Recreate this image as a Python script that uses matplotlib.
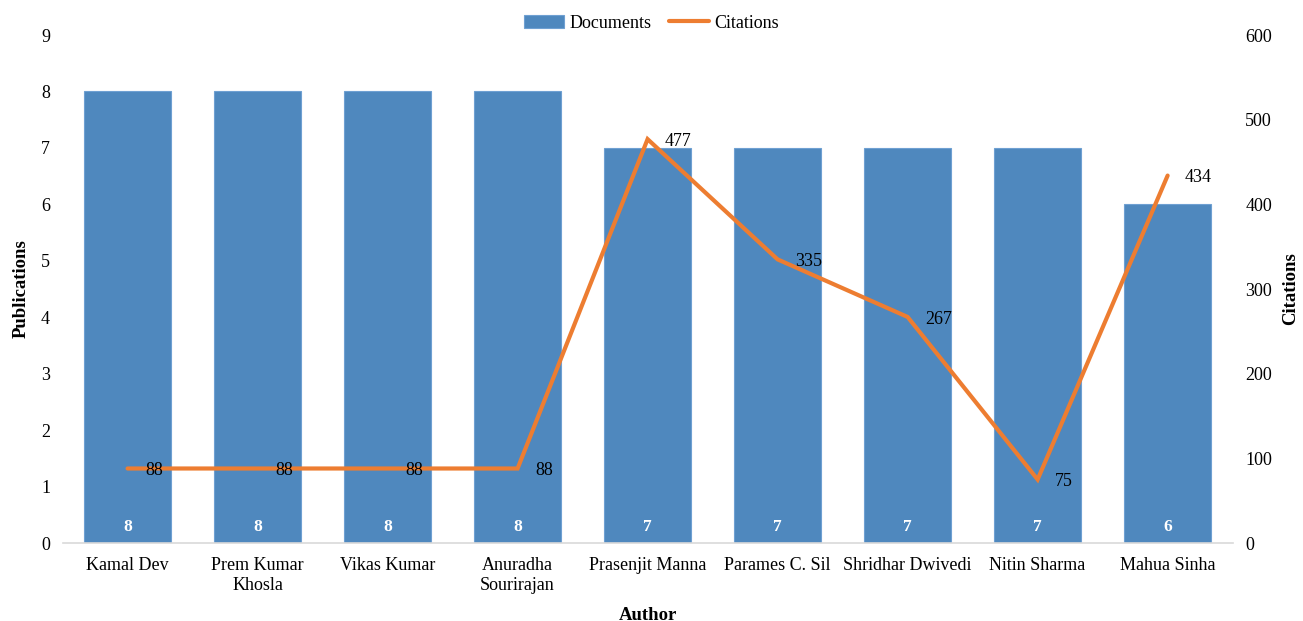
import matplotlib
matplotlib.use("Agg")
import matplotlib.pyplot as plt
import numpy as np

plt.rcParams['font.family'] = ['Liberation Serif', 'DejaVu Serif']

authors = ["Kamal Dev", "Prem Kumar\nKhosla", "Vikas Kumar", "Anuradha\nSourirajan",
           "Prasenjit Manna", "Parames C. Sil", "Shridhar Dwivedi", "Nitin Sharma",
           "Mahua Sinha"]
documents = [8, 8, 8, 8, 7, 7, 7, 7, 6]
citations = [88, 88, 88, 88, 477, 335, 267, 75, 434]

bar_color = "#4F88BE"
line_color = "#ED7D31"

fig = plt.figure(figsize=(13.03, 6.21), dpi=100)
ax = fig.add_axes([0.048, 0.1256, 0.898, 0.818])
ax2 = ax.twinx()

x = np.arange(len(authors))
bars = ax.bar(x, documents, width=0.67, color=bar_color, edgecolor="#6FA0D2",
              linewidth=0.8, label="Documents", zorder=2)
line, = ax2.plot(x, citations, color=line_color, linewidth=3,
                 solid_capstyle="round", solid_joinstyle="miter", label="Citations")

ax.set_xlim(-0.5, len(authors) - 0.5)
ax.set_ylim(0, 9)
ax2.set_ylim(0, 600)
ax.set_yticks(range(0, 10))
ax2.set_yticks(range(0, 601, 100))
ax.set_xticks(x)
ax.set_xticklabels(authors, fontsize=13, linespacing=1.25)

for a in (ax, ax2):
    for s in a.spines.values():
        s.set_visible(False)
    a.tick_params(length=0, labelsize=13)
ax.spines['bottom'].set_visible(True)
ax.spines['bottom'].set_color("#D9D9D9")
ax.spines['bottom'].set_linewidth(1.2)
ax.tick_params(axis='y', pad=9)
ax.tick_params(axis='x', pad=10)
ax2.tick_params(axis='y', pad=9)

# document counts inside bars, near the base
for xi, d in zip(x, documents):
    ax.text(xi, 0.29, str(d), color="white", fontweight="bold", fontsize=12.5,
            ha="center", va="center")

# citation counts beside each line point
for xi, c in zip(x, citations):
    ax2.annotate(str(c), (xi, c), xytext=(12.5, -1.5), textcoords="offset points",
                 fontsize=13, ha="left", va="center", color="black")

ax.set_xlabel("Author", fontsize=13.5, fontweight="bold", labelpad=9)
ax.set_ylabel("Publications", fontsize=13.5, fontweight="bold", labelpad=8)
ax2.set_ylabel("Citations", fontsize=13.5, fontweight="bold", labelpad=7)

fig.legend([bars, line], ["Documents", "Citations"], loc="center",
           bbox_to_anchor=(0.5, 1 - 23 / 621), ncol=2, frameon=False,
           fontsize=13, handlelength=2.2, handletextpad=0.3, columnspacing=1.0)

fig.savefig("out.png", dpi=100)
